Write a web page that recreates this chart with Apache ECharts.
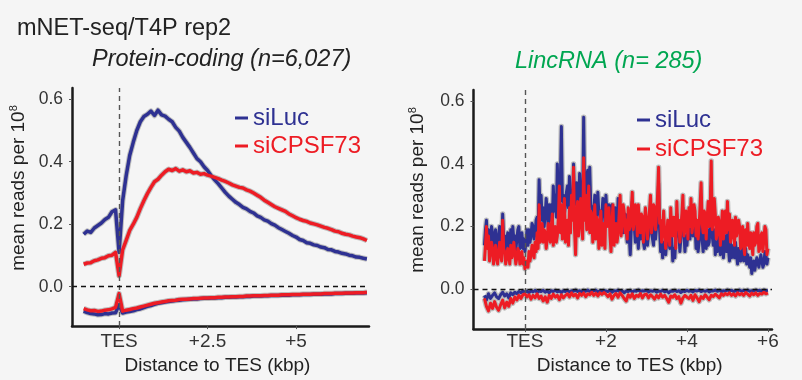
<!DOCTYPE html>
<html><head><meta charset="utf-8">
<script src="https://cdn.jsdelivr.net/npm/echarts@6/dist/echarts.min.js"></script>
<style>html,body{margin:0;padding:0;background:#f5f5f5}#c{width:802px;height:380px}</style>
</head><body><div id="c"></div>
<script>
// ---------- data ----------
const leftTicksX = [0, 2.5, 5];
const rightTicksX = [0, 2, 4, 6];
const ticksY = [0, 0.2, 0.4, 0.6];

// Protein-coding, positions -1.0 .. 7.0 kbp every 0.1
const pcSiLuc = [0.168,0.178,0.174,0.188,0.196,0.204,0.215,0.222,0.24,0.246,0.11,0.275,0.355,0.42,0.462,0.5,0.528,0.545,0.552,0.562,0.548,0.565,0.55,0.546,0.536,0.528,0.51,0.498,0.478,0.462,0.446,0.428,0.41,0.4,0.384,0.372,0.356,0.342,0.33,0.316,0.302,0.29,0.28,0.27,0.263,0.254,0.249,0.241,0.236,0.227,0.222,0.214,0.21,0.202,0.197,0.189,0.183,0.177,0.171,0.164,0.159,0.151,0.148,0.141,0.139,0.134,0.132,0.127,0.125,0.119,0.118,0.113,0.111,0.107,0.105,0.101,0.099,0.095,0.094,0.091,0.089];
const pcSiCPSF73 = [0.072,0.076,0.077,0.083,0.086,0.091,0.093,0.099,0.101,0.11,0.035,0.118,0.148,0.18,0.2,0.222,0.25,0.275,0.298,0.318,0.336,0.344,0.357,0.368,0.376,0.372,0.378,0.37,0.374,0.368,0.371,0.364,0.366,0.36,0.362,0.357,0.354,0.35,0.346,0.341,0.337,0.332,0.326,0.322,0.318,0.316,0.31,0.306,0.3,0.293,0.286,0.277,0.27,0.263,0.256,0.251,0.246,0.241,0.233,0.227,0.221,0.216,0.212,0.209,0.204,0.201,0.198,0.194,0.19,0.187,0.183,0.178,0.176,0.171,0.168,0.166,0.162,0.159,0.157,0.153,0.148];
const pcSiLucAS = [-0.078,-0.083,-0.086,-0.087,-0.09,-0.089,-0.086,-0.087,-0.084,-0.083,-0.058,-0.084,-0.081,-0.079,-0.077,-0.073,-0.071,-0.067,-0.063,-0.06,-0.056,-0.053,-0.051,-0.049,-0.047,-0.046,-0.044,-0.043,-0.042,-0.041,-0.04,-0.039,-0.039,-0.038,-0.037,-0.037,-0.036,-0.036,-0.035,-0.035,-0.034,-0.034,-0.033,-0.033,-0.032,-0.032,-0.031,-0.031,-0.03,-0.03,-0.03,-0.029,-0.029,-0.028,-0.028,-0.028,-0.027,-0.027,-0.027,-0.026,-0.026,-0.026,-0.025,-0.025,-0.025,-0.024,-0.024,-0.024,-0.023,-0.023,-0.023,-0.022,-0.022,-0.022,-0.021,-0.021,-0.021,-0.02,-0.02,-0.02,-0.019];
const pcSiCPSF73AS = [-0.07,-0.074,-0.077,-0.076,-0.079,-0.078,-0.075,-0.074,-0.071,-0.066,-0.022,-0.078,-0.075,-0.073,-0.07,-0.068,-0.065,-0.062,-0.059,-0.056,-0.053,-0.051,-0.049,-0.047,-0.045,-0.044,-0.043,-0.041,-0.04,-0.04,-0.039,-0.038,-0.038,-0.037,-0.036,-0.036,-0.035,-0.035,-0.034,-0.034,-0.033,-0.033,-0.032,-0.032,-0.031,-0.031,-0.03,-0.03,-0.029,-0.029,-0.029,-0.028,-0.028,-0.027,-0.027,-0.027,-0.026,-0.026,-0.026,-0.025,-0.025,-0.025,-0.024,-0.024,-0.024,-0.023,-0.023,-0.023,-0.022,-0.022,-0.022,-0.021,-0.021,-0.021,-0.02,-0.02,-0.02,-0.019,-0.019,-0.019,-0.018];

// LincRNA, positions -1.0 .. 6.0 kbp every 0.025
const lncSiLuc = [
 0.14,0.19,0.22,0.15,0.19,0.13,0.17,0.20,0.18,0.13,0.15,0.19,0.14,0.11,0.17,0.20,0.15,0.12,0.24,0.16,0.17,0.12,0.15,0.18,0.16,0.12,0.19,0.14,0.20,0.16,0.17,0.12,0.16,0.19,0.20,0.13,0.15,0.18,0.13,0.16,0.12,0.15,0.19,0.14,0.19,0.15,0.17,0.21,0.20,0.16,0.18,0.22,0.23,0.18,0.35,0.24,0.30,0.22,0.26,0.20,0.24,0.29,0.25,0.20,0.27,
 0.22,0.27,0.21,0.33,0.25,0.30,0.23,0.40,0.26,0.29,0.35,0.52,0.28,0.30,0.24,0.27,0.31,0.33,0.26,0.36,0.28,0.30,0.24,0.40,0.27,0.28,0.34,0.32,0.26,0.37,0.29,0.33,0.27,0.55,0.31,0.30,0.36,0.38,0.29,0.39,0.27,0.26,0.20,0.25,0.30,0.30,0.23,0.31,0.24,0.25,0.20,0.24,0.29,0.28,0.21,0.30,0.24,0.22,0.27,0.24,0.19,0.27,0.21,0.22,0.26,0.24,0.18,0.29,0.22,0.22,0.25,0.25,0.18,0.20,
 0.24,0.20,0.15,0.24,0.17,0.11,0.19,0.28,0.21,0.20,0.15,0.22,0.18,0.13,0.19,0.16,0.21,0.20,0.15,0.13,0.18,0.19,0.14,0.17,0.21,0.27,0.18,0.18,0.14,0.22,0.16,0.20,0.26,0.34,0.19,0.12,0.16,0.10,0.15,0.14,0.11,0.15,0.19,0.17,0.13,0.22,0.16,0.09,0.13,0.10,0.16,0.24,0.17,0.18,0.12,0.16,0.21,0.26,0.18,0.12,0.17,0.14,0.19,0.22,0.16,0.25,0.18,0.17,0.22,0.20,
 0.13,0.17,0.12,0.15,0.20,0.25,0.16,0.12,0.18,0.17,0.13,0.19,0.14,0.15,0.21,0.33,0.17,0.14,0.19,0.11,0.15,0.12,0.17,0.16,0.11,0.14,0.18,0.10,0.14,0.17,0.12,0.20,0.13,0.09,0.15,0.10,0.13,0.14,0.10,0.15,0.11,0.08,0.13,0.12,0.09,0.10,0.13,0.09,0.12,0.13,0.08,0.11,0.09,0.07,0.10,0.05,0.08,0.09,0.06,0.06,0.10,0.10,0.07,0.07,0.11,0.09,0.07,0.08,0.12,0.11,0.08,0.10];
const lncSiCPSF73 = [
 0.09,0.14,0.20,0.13,0.17,0.09,0.12,0.15,0.13,0.08,0.11,0.14,0.10,0.08,0.12,0.15,0.11,0.09,0.22,0.13,0.12,0.08,0.10,0.13,0.11,0.08,0.14,0.10,0.12,0.15,0.11,0.08,0.10,0.13,0.12,0.08,0.09,0.12,0.08,0.10,0.065,0.08,0.09,0.07,0.12,0.09,0.11,0.14,0.14,0.10,0.15,0.12,0.18,0.13,0.27,0.15,0.17,0.21,0.15,0.19,0.18,0.13,0.16,0.21,0.20,
 0.15,0.20,0.24,0.14,0.19,0.20,0.15,0.17,0.23,0.33,0.18,0.27,0.16,0.24,0.29,0.15,0.20,0.22,0.14,0.26,0.18,0.30,0.22,0.39,0.19,0.11,0.24,0.28,0.17,0.21,0.29,0.23,0.16,0.42,0.22,0.30,0.19,0.27,0.33,0.18,0.25,0.24,0.15,0.20,0.27,0.16,0.23,0.22,0.13,0.19,0.25,0.14,0.21,0.19,0.13,0.27,0.20,0.21,0.26,0.17,0.12,0.22,0.27,0.14,0.19,0.21,0.15,0.18,0.24,0.30,0.17,0.21,0.27,0.25,0.18,
 0.22,0.16,0.26,0.19,0.20,0.25,0.31,0.19,0.22,0.27,0.25,0.17,0.27,0.21,0.18,0.24,0.23,0.15,0.21,0.26,0.22,0.16,0.20,0.25,0.30,0.18,0.21,0.27,0.26,0.19,0.24,0.30,0.39,0.21,0.22,0.15,0.20,0.25,0.18,0.13,0.16,0.22,0.19,0.14,0.26,0.18,0.17,0.23,0.20,0.13,0.28,0.19,0.22,0.15,0.19,0.24,0.30,0.17,0.19,0.25,0.23,0.16,0.26,0.20,0.29,0.18,0.21,0.27,0.25,0.17,
 0.22,0.16,0.20,0.27,0.34,0.21,0.18,0.25,0.24,0.16,0.23,0.28,0.20,0.26,0.41,0.19,0.22,0.29,0.24,0.16,0.18,0.23,0.21,0.14,0.20,0.25,0.16,0.22,0.25,0.18,0.28,0.19,0.24,0.15,0.17,0.22,0.20,0.14,0.23,0.17,0.17,0.22,0.20,0.13,0.15,0.20,0.14,0.11,0.19,0.14,0.21,0.15,0.13,0.18,0.15,0.11,0.18,0.14,0.15,0.20,0.21,0.12,0.13,0.17,0.18,0.12,0.16,0.20,0.19,0.11,0.13];
// LincRNA antisense, -1.0 .. 6.0 every 0.05
const lncSiLucAS = [-0.02,-0.035,-0.015,-0.03,-0.02,-0.012,-0.025,-0.03,-0.018,-0.01,-0.022,-0.015,-0.028,-0.012,-0.018,-0.01,-0.015,-0.008,-0.012,-0.006,-0.01,
 -0.006,-0.012,-0.005,-0.009,-0.004,-0.011,-0.006,-0.008,-0.004,-0.01,-0.006,-0.012,-0.005,-0.008,-0.004,-0.009,-0.006,-0.011,-0.005,-0.008,
 -0.004,-0.009,-0.005,-0.007,-0.003,-0.008,-0.005,-0.01,-0.004,-0.007,-0.003,-0.008,-0.005,-0.006,-0.003,-0.009,-0.005,-0.007,-0.004,-0.006,
 -0.008,-0.004,-0.01,-0.005,-0.007,-0.003,-0.009,-0.005,-0.012,-0.006,-0.008,-0.004,-0.009,-0.005,-0.007,-0.003,-0.008,-0.005,-0.006,-0.004,
 -0.009,-0.005,-0.007,-0.004,-0.01,-0.006,-0.008,-0.004,-0.009,-0.005,-0.012,-0.006,-0.007,-0.004,-0.008,-0.005,-0.011,-0.006,-0.008,-0.004,
 -0.007,-0.005,-0.009,-0.004,-0.006,-0.003,-0.008,-0.005,-0.007,-0.004,-0.009,-0.005,-0.006,-0.003,-0.007,-0.004,-0.008,-0.005,-0.006,-0.003,
 -0.006,-0.004,-0.008,-0.005,-0.006,-0.003,-0.007,-0.004,-0.006,-0.003,-0.007,-0.005,-0.006,-0.003,-0.005,-0.004,-0.007,-0.003,-0.005,-0.004];
const lncSiCPSF73AS = [-0.03,-0.055,-0.07,-0.045,-0.062,-0.04,-0.058,-0.068,-0.05,-0.035,-0.06,-0.042,-0.055,-0.03,-0.045,-0.025,-0.035,-0.02,-0.03,-0.018,-0.015,
 -0.025,-0.018,-0.032,-0.02,-0.028,-0.015,-0.03,-0.022,-0.038,-0.025,-0.042,-0.02,-0.03,-0.016,-0.026,-0.02,-0.034,-0.018,-0.028,-0.02,
 -0.015,-0.025,-0.012,-0.022,-0.016,-0.028,-0.014,-0.02,-0.012,-0.024,-0.015,-0.018,-0.01,-0.02,-0.013,-0.022,-0.012,-0.017,-0.011,-0.016,
 -0.024,-0.015,-0.032,-0.02,-0.014,-0.026,-0.012,-0.02,-0.03,-0.038,-0.018,-0.026,-0.015,-0.03,-0.02,-0.024,-0.014,-0.028,-0.018,-0.016,
 -0.028,-0.018,-0.024,-0.032,-0.02,-0.028,-0.016,-0.026,-0.02,-0.03,-0.042,-0.022,-0.026,-0.018,-0.03,-0.024,-0.045,-0.028,-0.02,-0.026,
 -0.03,-0.02,-0.036,-0.018,-0.028,-0.04,-0.024,-0.03,-0.018,-0.026,-0.034,-0.02,-0.024,-0.016,-0.022,-0.028,-0.015,-0.02,-0.014,-0.018,
 -0.012,-0.02,-0.015,-0.022,-0.012,-0.018,-0.014,-0.02,-0.011,-0.016,-0.022,-0.013,-0.018,-0.012,-0.02,-0.014,-0.016,-0.01,-0.015,-0.012];

// ---------- chart ----------
const FONT = "'Liberation Sans', Arial, Helvetica, sans-serif";
const BLUE = '#2e3192', RED = '#ed1c24', GREEN = '#00a651', HALO = '#bdbdbd', INK = '#222';

function seq(start, step, n) { const a = []; for (let i = 0; i < n; i++) a.push(+(start + step * i).toFixed(3)); return a; }
const pcX = seq(-1, 0.1, pcSiLuc.length);
const lncX = seq(-1, 0.025, lncSiLuc.length);
const lncXas = seq(-1, 0.05, lncSiLucAS.length);
const pairs = (xs, ys) => xs.map((x, i) => [x, ys[i]]);

function line(name, gi, xs, ys, color, w, z, extra) {
  return Object.assign({
    type: 'line', name: name, xAxisIndex: gi, yAxisIndex: gi, data: pairs(xs, ys),
    showSymbol: false, symbol: 'none', z: z, silent: true, animation: false,
    lineStyle: { color: color, width: w, join: 'round' }, itemStyle: { color: color }
  }, extra || {});
}
function refLines() {
  return {
    silent: true, symbol: 'none', label: { show: false }, animation: false,
    data: [
      { xAxis: 0, lineStyle: { color: '#555', type: [5, 4], width: 1.4 } },
      { yAxis: 0, lineStyle: { color: '#111', type: [5, 4], width: 1.4 } }
    ]
  };
}
const fmtX = v => (v === 0 ? 'TES' : '+' + v);

function xAxis(gi, min, max, ticks, margin, namePad) {
  return {
    type: 'value', gridIndex: gi, min: min, max: max,
    axisLine: { show: true, onZero: false, lineStyle: { color: '#1a1a1a', width: 2.5 } },
    axisTick: { show: true, length: 3, customValues: ticks, lineStyle: { color: '#555', width: 1 } },
    axisLabel: { customValues: ticks, formatter: fmtX, fontSize: 19, color: '#333', margin: margin, fontFamily: FONT },
    splitLine: { show: false },
    name: 'Distance to TES (kbp)', nameLocation: 'middle', nameGap: 26,
    nameTextStyle: { fontSize: 19, color: INK, fontFamily: FONT, padding: namePad }
  };
}
function yAxis(gi, min, max) {
  return {
    type: 'value', gridIndex: gi, min: min, max: max,
    axisLine: { show: true, onZero: false, lineStyle: { color: '#1a1a1a', width: 2.5 } },
    axisTick: { show: true, length: 3, customValues: ticksY, lineStyle: { color: '#555', width: 1 } },
    axisLabel: { customValues: ticksY, formatter: v => v.toFixed(1), fontSize: 17.5, color: '#333', margin: 9, fontFamily: FONT },
    splitLine: { show: false }
  };
}
function legend(left, top, gap) {
  return {
    orient: 'vertical', left: left, top: top, icon: 'rect', itemWidth: 13, itemHeight: 3, itemGap: gap,
    selectedMode: false, padding: 0,
    textStyle: { fontSize: 24, fontFamily: FONT },
    data: [{ name: 'siLuc', textStyle: { color: BLUE } }, { name: 'siCPSF73', textStyle: { color: RED } }]
  };
}
function yTitle(x, y) {
  return {
    type: 'text', x: x, y: y, rotation: Math.PI / 2, silent: true,
    style: {
      text: '{a|mean reads per 10}{s|8}', align: 'center', verticalAlign: 'middle',
      rich: {
        a: { fontSize: 19, fontFamily: FONT, fill: INK, lineHeight: 22 },
        s: { fontSize: 11, fontFamily: FONT, fill: INK, verticalAlign: 'top', lineHeight: 22 }
      }
    }
  };
}

const series = [
  // halos (error bands)
  line('band', 0, pcX, pcSiLuc, HALO, 5.5, 1),
  line('band', 0, pcX, pcSiLucAS, HALO, 5.5, 1),
  line('band', 0, pcX, pcSiCPSF73, HALO, 5.5, 1),
  line('band', 0, pcX, pcSiCPSF73AS, HALO, 5.5, 1),
  line('band', 1, lncX, lncSiLuc, HALO, 5.5, 1),
  line('band', 1, lncXas, lncSiLucAS, HALO, 5.5, 1),
  line('band', 1, lncX, lncSiCPSF73, HALO, 5.5, 1),
  line('band', 1, lncXas, lncSiCPSF73AS, HALO, 5.5, 1),
  // signals
  line('siLuc', 0, pcX, pcSiLuc, BLUE, 3.5, 2),
  line('siLuc', 0, pcX, pcSiLucAS, BLUE, 3.5, 2),
  line('siCPSF73', 0, pcX, pcSiCPSF73, RED, 3.5, 3, { markLine: refLines() }),
  line('siCPSF73', 0, pcX, pcSiCPSF73AS, RED, 3.5, 3),
  line('siLuc', 1, lncX, lncSiLuc, BLUE, 3, 2),
  line('siLuc', 1, lncXas, lncSiLucAS, BLUE, 3, 2),
  line('siCPSF73', 1, lncX, lncSiCPSF73, RED, 3, 3, { markLine: refLines() }),
  line('siCPSF73', 1, lncXas, lncSiCPSF73AS, RED, 3, 3)
];

const chart = echarts.init(document.getElementById('c'), null, { renderer: 'canvas' });
chart.setOption({
  backgroundColor: '#f5f5f5',
  animation: false,
  textStyle: { fontFamily: FONT },
  title: [
    { text: 'mNET-seq/T4P rep2', left: 17, top: 17, padding: 0, textStyle: { fontSize: 23.5, fontWeight: 'normal', color: INK, fontFamily: FONT } },
    { text: 'Protein-coding (n=6,027)', left: 92, top: 48, padding: 0, textStyle: { fontSize: 23.5, fontStyle: 'italic', fontWeight: 'normal', color: INK, fontFamily: FONT } },
    { text: 'LincRNA (n= 285)', left: 515, top: 50, padding: 0, textStyle: { fontSize: 23.5, fontStyle: 'italic', fontWeight: 'normal', color: GREEN, fontFamily: FONT } }
  ],
  legend: [legend(235, 106, 4), legend(637, 108, 5)],
  grid: [
    { left: 72, top: 88, right: 433, bottom: 50.5 },
    { left: 473.5, top: 90, right: 30, bottom: 47 }
  ],
  xAxis: [xAxis(0, -1.33, 7.06, leftTicksX, 6, [0, 6, 0, 0]), xAxis(1, -1.27, 6.1, rightTicksX, 3, [0, 0, 0, 14])],
  yAxis: [yAxis(0, -0.126, 0.636), yAxis(1, -0.128, 0.637)],
  graphic: [yTitle(19, 188), yTitle(418, 190)],
  series: series
});
</script></body></html>
